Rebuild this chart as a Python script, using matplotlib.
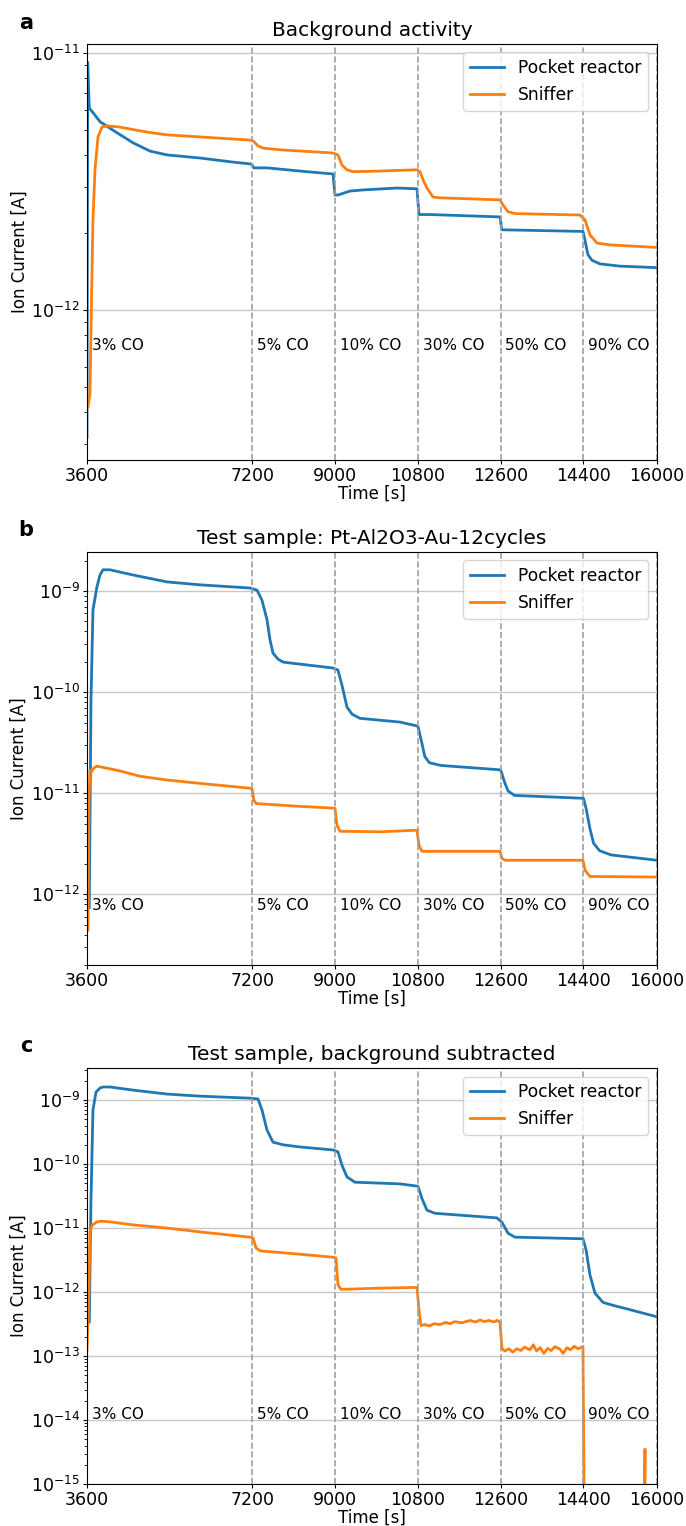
import matplotlib
matplotlib.use('Agg')
import matplotlib.pyplot as plt
import numpy as np

# CO steps (start time of each step) and labels
co_times = [3600, 7200, 9000, 10800, 12600, 14400]
co_labels = ['3% CO', '5% CO', '10% CO', '30% CO', '50% CO', '90% CO']
x_ticks = [3600, 7200, 9000, 10800, 12600, 14400, 16000]

# Panel a: background activity
bg_pocket_t = [3600, 3615, 3650, 3750, 3883, 4253, 4601, 4970, 5340, 6058, 6776, 7146,
               7190, 7230, 7516, 8234, 8952, 8995, 9060, 9321, 9604, 10344, 10779,
               10822, 11062, 12590, 12620, 14390, 14432, 14498, 14585, 14760, 15195, 16000]
bg_pocket = [3.2e-13, 9.2e-12, 6.1e-12, 5.8e-12, 5.4e-12, 4.89e-12, 4.47e-12, 4.15e-12,
             4.01e-12, 3.90e-12, 3.76e-12, 3.70e-12, 3.67e-12, 3.57e-12, 3.57e-12, 3.47e-12,
             3.38e-12, 2.80e-12, 2.80e-12, 2.90e-12, 2.93e-12, 2.98e-12, 2.96e-12, 2.35e-12,
             2.35e-12, 2.30e-12, 2.05e-12, 2.02e-12, 1.87e-12, 1.64e-12, 1.56e-12, 1.51e-12,
             1.48e-12, 1.46e-12]
bg_sniffer_t = [3622, 3665, 3698, 3730, 3774, 3839, 3926, 4035, 4300, 4688, 4970, 5340,
                6058, 7146, 7211, 7320, 7429, 7864, 8952, 9060, 9147, 9256, 9386, 9974,
                10779, 10844, 10931, 10996, 11127, 11279, 12584, 12650, 12759, 12911,
                14325, 14434, 14542, 14694, 14977, 16000]
bg_sniffer = [4.2e-13, 4.7e-13, 1.09e-12, 2.24e-12, 3.51e-12, 4.71e-12, 5.15e-12, 5.2e-12,
              5.15e-12, 5.0e-12, 4.9e-12, 4.80e-12, 4.71e-12, 4.58e-12, 4.55e-12, 4.35e-12,
              4.26e-12, 4.19e-12, 4.08e-12, 4.01e-12, 3.66e-12, 3.51e-12, 3.45e-12, 3.47e-12,
              3.51e-12, 3.45e-12, 3.15e-12, 2.98e-12, 2.75e-12, 2.73e-12, 2.68e-12, 2.56e-12,
              2.41e-12, 2.37e-12, 2.34e-12, 2.24e-12, 1.96e-12, 1.82e-12, 1.79e-12, 1.75e-12]

# Panel b: test sample
ts_pocket_t = [3650, 3687, 3730, 3817, 3883, 3948, 4100, 4600, 5340, 6058, 7146, 7298,
               7407, 7516, 7581, 7646, 7755, 7864, 8234, 8952, 9060, 9147, 9256, 9365,
               9539, 10409, 10800, 10880, 10950, 11050, 11300, 12600, 12680, 12760, 12900,
               14400, 14460, 14540, 14620, 14750, 15000, 16000]
ts_pocket = [7.4e-13, 8.3e-11, 6.5e-10, 1.1e-9, 1.44e-9, 1.62e-9, 1.62e-9, 1.44e-9, 1.23e-9,
             1.15e-9, 1.07e-9, 1.02e-9, 8.1e-10, 5.2e-10, 3.3e-10, 2.43e-10, 2.12e-10,
             1.98e-10, 1.89e-10, 1.73e-10, 1.65e-10, 1.17e-10, 7.1e-11, 6.05e-11, 5.5e-11,
             5.05e-11, 4.6e-11, 3.2e-11, 2.3e-11, 2.0e-11, 1.88e-11, 1.7e-11, 1.3e-11,
             1.05e-11, 9.5e-12, 8.9e-12, 7.0e-12, 4.5e-12, 3.2e-12, 2.7e-12, 2.45e-12, 2.17e-12]
ts_sniffer_t = [3600, 3622, 3643, 3665, 3687, 3752, 3817, 3948, 4318, 4753, 5340, 6058,
                7146, 7190, 7233, 7277, 8234, 8995, 9039, 9104, 9974, 10779, 10822, 10887,
                12584, 12628, 12693, 14390, 14434, 14542, 16000]
ts_sniffer = [4.4e-13, 4.4e-13, 8.5e-12, 1.69e-11, 1.6e-11, 1.78e-11, 1.85e-11, 1.8e-11,
              1.66e-11, 1.47e-11, 1.35e-11, 1.25e-11, 1.12e-11, 1.1e-11, 8.5e-12, 7.9e-12,
              7.4e-12, 7.1e-12, 4.8e-12, 4.2e-12, 4.15e-12, 4.3e-12, 3.06e-12, 2.66e-12,
              2.66e-12, 2.27e-12, 2.17e-12, 2.17e-12, 1.73e-12, 1.5e-12, 1.48e-12]

# Panel c: background subtracted
sub_pocket_t = [3650, 3687, 3730, 3796, 3883, 3948, 4100, 4601, 5340, 6058, 7146, 7320,
                7407, 7516, 7646, 7864, 8234, 8952, 9060, 9147, 9256, 9430, 10409, 10800,
                10887, 10996, 11170, 12519, 12628, 12759, 12911, 14390, 14456, 14542,
                14651, 14825, 15043, 15412, 16000]
sub_pocket = [3.4e-13, 2.7e-11, 7.0e-10, 1.33e-9, 1.54e-9, 1.6e-9, 1.6e-9, 1.43e-9, 1.24e-9,
              1.15e-9, 1.07e-9, 1.04e-9, 7.0e-10, 3.4e-10, 2.2e-10, 2.0e-10, 1.85e-10,
              1.66e-10, 1.55e-10, 9.6e-11, 6.3e-11, 5.2e-11, 4.9e-11, 4.5e-11, 2.9e-11,
              1.9e-11, 1.7e-11, 1.44e-11, 1.23e-11, 8.3e-12, 7.2e-12, 6.8e-12, 4.6e-12,
              1.85e-12, 9.6e-13, 6.9e-13, 6.2e-13, 5.3e-13, 4.1e-13]
sub_sniffer_t = [3600, 3643, 3665, 3709, 3817, 3926, 4100, 4601, 5340, 6058, 7146, 7211,
                 7277, 7364, 8234, 8952, 9017, 9060, 9125, 9974, 10779, 10822, 10866,
                 10950, 11050, 11150, 11279, 11400, 11500, 11600, 11750, 11932, 12050,
                 12150, 12250, 12350, 12450, 12519, 12584, 12628, 12693, 12780, 12860,
                 12950, 13040, 13120, 13237, 13310, 13380, 13460, 13540, 13620, 13700,
                 13780, 13889, 13960, 14040, 14120, 14200, 14280, 14390, 14434, 15700,
                 15739, 15748, 16000]
sub_sniffer = [1.2e-13, 1.1e-12, 8.7e-12, 1.1e-11, 1.25e-11, 1.28e-11, 1.25e-11, 1.12e-11,
               1.0e-11, 8.7e-12, 7.2e-12, 7.0e-12, 4.9e-12, 4.4e-12, 3.9e-12, 3.5e-12,
               3.4e-12, 1.3e-12, 1.1e-12, 1.15e-12, 1.18e-12, 5.3e-13, 3.0e-13, 3.1e-13,
               2.95e-13, 3.2e-13, 3.1e-13, 3.35e-13, 3.2e-13, 3.45e-13, 3.3e-13, 3.6e-13,
               3.4e-13, 3.65e-13, 3.45e-13, 3.6e-13, 3.4e-13, 3.6e-13, 3.4e-13, 1.3e-13,
               1.2e-13, 1.3e-13, 1.15e-13, 1.3e-13, 1.22e-13, 1.38e-13, 1.25e-13, 1.5e-13,
               1.2e-13, 1.35e-13, 1.1e-13, 1.32e-13, 1.22e-13, 1.4e-13, 1.28e-13, 1.1e-13,
               1.35e-13, 1.25e-13, 1.42e-13, 1.3e-13, 1.4e-13, 1e-17, 1e-17, 3.5e-15, 1e-17,
               1e-17]

panels = [
    ('a', 'Background activity', bg_pocket_t, bg_pocket, bg_sniffer_t, bg_sniffer,
     (10**-12.584, 10**-10.965), 7.3e-13),
    ('b', 'Test sample: Pt-Al2O3-Au-12cycles', ts_pocket_t, ts_pocket, ts_sniffer_t, ts_sniffer,
     (10**-12.70, 10**-8.614), 7.8e-13),
    ('c', 'Test sample, background subtracted', sub_pocket_t, sub_pocket, sub_sniffer_t,
     sub_sniffer, (1e-15, 10**-8.5), 1.2e-14),
]

fig = plt.figure(figsize=(6.86, 15.26), dpi=100)
axes_pos = [
    [0.1268, 0.6986, 0.8309, 0.2726],
    [0.1268, 0.3676, 0.8309, 0.2707],
    [0.1268, 0.0275, 0.8309, 0.2726],
]
letter_y = [0.985, 0.653, 0.3143]

for pos, ly, (letter, title, pt, pv, st, sv, ylim, text_y) in zip(axes_pos, letter_y, panels):
    ax = fig.add_axes(pos)
    ax.plot(pt, pv, color='#1f77b4', lw=2, label='Pocket reactor')
    ax.plot(st, sv, color='#ff7f0e', lw=2, label='Sniffer')
    ax.set_yscale('log')
    ax.set_xlim(3600, 16000)
    ax.set_ylim(*ylim)
    ax.set_xticks(x_ticks)
    ax.tick_params(labelsize=12.5, pad=2, length=3)
    ax.tick_params(which='minor', length=2)
    ax.yaxis.grid(True, which='major', color='#c8c8c8', lw=1)
    for t in co_times[1:] + [16000]:
        ax.axvline(t, color='#a0a0a0', ls='--', lw=1.2)
    for t, lab in zip(co_times, co_labels):
        ax.text(t + 100, text_y, lab, fontsize=11, va='center', ha='left')
    ax.set_xlabel('Time [s]', fontsize=12, labelpad=0)
    ax.set_ylabel('Ion Current [A]', fontsize=12, labelpad=2)
    ax.set_title(title, fontsize=14.5)
    ax.legend(loc='upper right', fontsize=12.3)
    fig.text(0.038, ly, letter, fontsize=15, fontweight='bold', ha='center', va='center')

fig.savefig('out.png', dpi=100)
